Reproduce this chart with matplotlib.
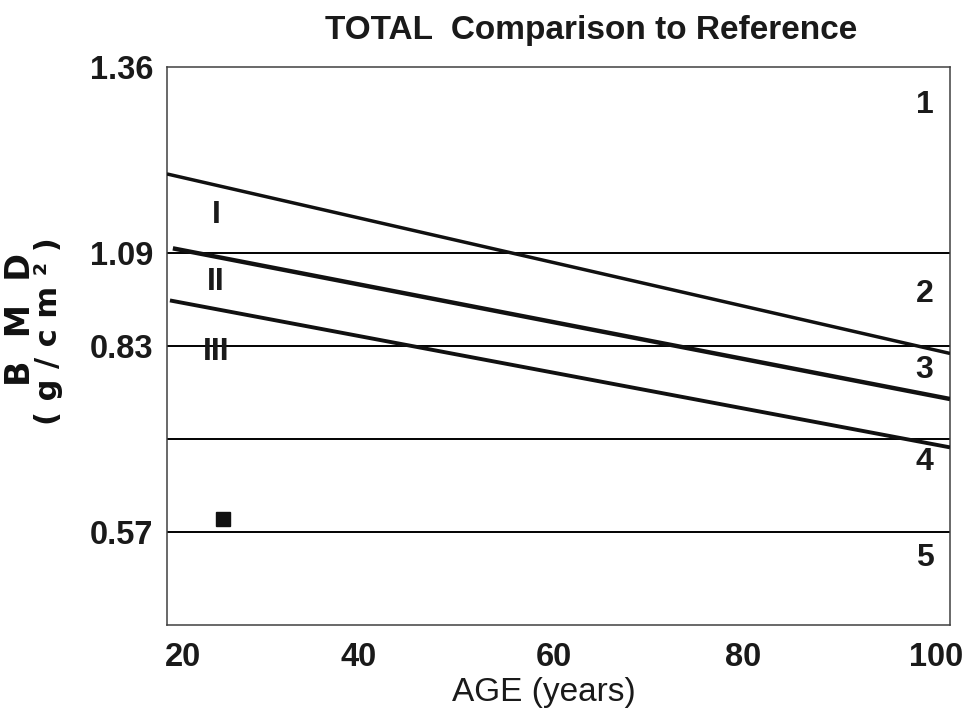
import numpy as np
import matplotlib.pyplot as plt
from matplotlib.transforms import ScaledTranslation

plt.rcParams['font.family'] = ['Liberation Sans', 'DejaVu Sans']

# reference bands drawn on a 0-6 chart scale; cut-offs labelled in g/cm2
cut_pos = [6, 4, 3, 1]
cut_labels = ['1.36', '1.09', '0.83', '0.57']
band_lines = [4, 3, 2, 1]

# reference curves: age vs chart position
ref_I_age = [20, 100]
ref_I_y = [4.85, 2.92]
ref_II_age = [20.6, 100]
ref_II_y = [4.05, 2.43]
ref_III_age = [20.3, 100]
ref_III_y = [3.49, 1.91]

# patient result
patient_age = [25.7]
patient_y = [1.145]

band_names = ['1', '2', '3', '4', '5']
band_name_y = [5.59, 3.56, 2.74, 1.75, 0.72]
curve_names = ['I', 'II', 'III']
curve_name_y = [4.41, 3.69, 2.94]

age_ticks = [20, 40, 60, 80, 100]
age_label_shift = [16, -4, -5, -11, -14]  # px

fig = plt.figure(figsize=(9.64, 7.11), dpi=100)
ax = fig.add_axes([167 / 964, 1 - 625 / 711, 783 / 964, 558 / 711])

ax.set_xlim(20, 100)
ax.set_ylim(0, 6)

for y in band_lines:
    ax.axhline(y, color='black', lw=1.4, zorder=2)

ax.plot(ref_I_age, ref_I_y, color='#111111', lw=2.5, solid_capstyle='butt', zorder=3)
ax.plot(ref_II_age, ref_II_y, color='#111111', lw=3.2, solid_capstyle='butt', zorder=3)
ax.plot(ref_III_age, ref_III_y, color='#111111', lw=2.8, solid_capstyle='butt', zorder=3)

ax.plot(patient_age, patient_y, marker='s', ms=10, color='#111111', ls='none', zorder=4)

for name, y in zip(band_names, band_name_y):
    ax.text(97.4, y, name, ha='center', va='center', fontsize=23, fontweight='bold',
            color='#1a1a1a')
for name, y in zip(curve_names, curve_name_y):
    ax.text(25.0, y, name, ha='center', va='center', fontsize=23, fontweight='bold',
            color='#1a1a1a')

for s in ax.spines.values():
    s.set_color('#404040')
    s.set_linewidth(1.1)

ax.set_yticks(cut_pos)
ax.set_yticklabels(cut_labels)
ax.set_xticks(age_ticks)
ax.set_xticklabels([str(a) for a in age_ticks])
ax.tick_params(length=0, labelsize=23.5, colors='#1a1a1a')
ax.tick_params(axis='y', pad=10)
ax.tick_params(axis='x', pad=12)
for lab in ax.get_yticklabels() + ax.get_xticklabels():
    lab.set_fontweight('bold')
for lab, dx in zip(ax.get_xticklabels(), age_label_shift):
    lab.set_transform(lab.get_transform() + ScaledTranslation(dx / 100, 0, fig.dpi_scale_trans))

fig.text(591 / 964, 1 - 31 / 711, 'TOTAL  Comparison to Reference', ha='center', va='center',
         fontsize=24, fontweight='bold', color='#1a1a1a')
fig.text(544 / 964, 1 - 692 / 711, 'AGE (years)', ha='center', va='center',
         fontsize=24, color='#1a1a1a')

fig.text(21 / 964, 1 - 320 / 711, 'B  M  D', rotation=90, ha='center', va='center',
         fontsize=24, fontweight='heavy', family='DejaVu Sans', color='#111111')
fig.text(49 / 964, 1 - 331 / 711, '( g / c m ² )', rotation=90, ha='center', va='center',
         fontsize=22, fontweight='bold', family='DejaVu Sans', color='#111111')

fig.savefig('out.png', dpi=100)
